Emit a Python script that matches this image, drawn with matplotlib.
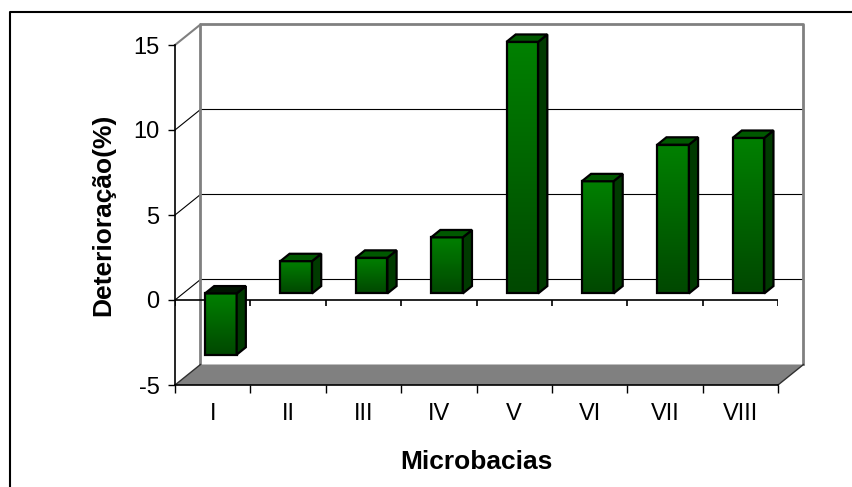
import numpy as np
import matplotlib
matplotlib.use('Agg')
import matplotlib.pyplot as plt
from matplotlib.patches import Polygon, Rectangle
from matplotlib.lines import Line2D

plt.rcParams['font.family'] = ['Liberation Sans', 'DejaVu Sans']
plt.rcParams['axes.unicode_minus'] = False

# data
categorias = ['I', 'II', 'III', 'IV', 'V', 'VI', 'VII', 'VIII']
deterioracao = [-3.6, 1.9, 2.1, 3.3, 14.8, 6.6, 8.75, 9.15]
yticks = [-5, 0, 5, 10, 15]

# 3d look: depth shift of the back wall, in data units
dx, dy = 0.338, 1.206
d0, d1 = 0.32, 0.68     # depth span of the bars
w = 0.42                # bar width
gray = '#808080'

fig = plt.figure(figsize=(8.52, 4.87), dpi=100)
ax = fig.add_axes([175 / 852, 102 / 487, 603 / 852, 340 / 487])
ax.patch.set_alpha(0)

xmin, xmax = -0.5, len(categorias) - 0.5
ymin, ymax = yticks[0], yticks[-1]
bounds = np.arange(xmin, xmax + 1)

# back wall and side wall
for v in yticks[1:-1]:
    ax.plot([xmin + dx, xmax + dx], [v + dy, v + dy], color='k', lw=0.8, clip_on=False, zorder=1)
    ax.plot([xmin, xmin + dx], [v, v + dy], color='k', lw=0.8, clip_on=False, zorder=1)
ax.plot([xmin, xmin + dx], [ymax, ymax + dy], color=gray, lw=1.5, clip_on=False, zorder=1)
ax.plot([xmin + dx, xmin + dx, xmax + dx, xmax + dx],
        [ymin + dy, ymax + dy, ymax + dy, ymin + dy],
        color=gray, lw=2, clip_on=False, zorder=1)

# floor
floor = Polygon([(xmin, ymin), (xmax, ymin), (xmax + dx, ymin + dy), (xmin + dx, ymin + dy)],
                closed=True, facecolor=gray, edgecolor='none', clip_on=False, zorder=1)
ax.add_patch(floor)
ax.plot([xmax, xmax + dx], [ymin, ymin + dy], color='#303030', lw=1, clip_on=False, zorder=1)
ax.plot([xmin, xmin + dx], [ymin, ymin + dy], color='#303030', lw=1, clip_on=False, zorder=1)

# front zero line with its ticks
ax.axhline(0, color='k', lw=1.2, zorder=2)
ax.vlines(bounds, -0.35, 0, color='k', lw=1.2, zorder=2)

# bars
grad = np.linspace(0, 1, 64).reshape(-1, 1)
cmap = matplotlib.colors.LinearSegmentedColormap.from_list('verde', ['#008000', '#004800'])
for i, v in enumerate(deterioracao):
    x0 = i - w / 2 + d0 * dx
    x1 = i + w / 2 + d0 * dx
    base = d0 * dy
    top = v + d0 * dy
    lo, hi = min(base, top), max(base, top)
    sx, sy = (d1 - d0) * dx, (d1 - d0) * dy
    ax.imshow(grad, cmap=cmap, extent=[x0, x1, lo, hi], origin='upper',
              aspect='auto', interpolation='bicubic', zorder=3, clip_on=False)
    ax.add_patch(Rectangle((x0, lo), x1 - x0, hi - lo, facecolor='none',
                           edgecolor='k', lw=1.6, zorder=4, clip_on=False))
    side = Polygon([(x1, lo), (x1, hi), (x1 + sx, hi + sy), (x1 + sx, lo + sy)],
                   closed=True, facecolor='#003a00', edgecolor='k', lw=1.6,
                   zorder=4, clip_on=False)
    ax.add_patch(side)
    cap = '#005800' if v >= 0 else '#001400'
    topface = Polygon([(x0, hi), (x1, hi), (x1 + sx, hi + sy), (x0 + sx, hi + sy)],
                      closed=True, facecolor=cap, edgecolor='k', lw=1.6,
                      zorder=4, clip_on=False)
    ax.add_patch(topface)

ax.set_xlim(xmin, xmax)
ax.set_ylim(ymin, ymax)

# axes, ticks, labels
for s in ['top', 'right']:
    ax.spines[s].set_visible(False)
ax.spines['left'].set_linewidth(1.2)
ax.spines['bottom'].set_linewidth(1.2)
ax.spines['left'].set_zorder(5)
ax.set_yticks(yticks)
ax.tick_params(axis='y', direction='out', length=5, width=1, labelsize=17, pad=6)
ax.set_xticks(bounds)
ax.set_xticklabels([])
ax.tick_params(axis='x', which='major', direction='out', length=6, width=1)
ax.set_xticks(np.arange(len(categorias)), minor=True)
ax.set_xticklabels(categorias, minor=True)
ax.tick_params(axis='x', which='minor', length=0, labelsize=17, pad=13)

ax.set_xlabel('Microbacias', fontsize=19, fontweight='bold', labelpad=18)
ax.set_ylabel('Deterioração(%)', fontsize=19, fontweight='bold', labelpad=13)

# outer frame of the chart (only left and top fall inside the picture)
fig.add_artist(Line2D([9.5 / 852, 9.5 / 852, 1], [0, 1 - 11.5 / 487, 1 - 11.5 / 487],
                      color='k', lw=1.5, transform=fig.transFigure))

fig.savefig('out.png', dpi=100)
